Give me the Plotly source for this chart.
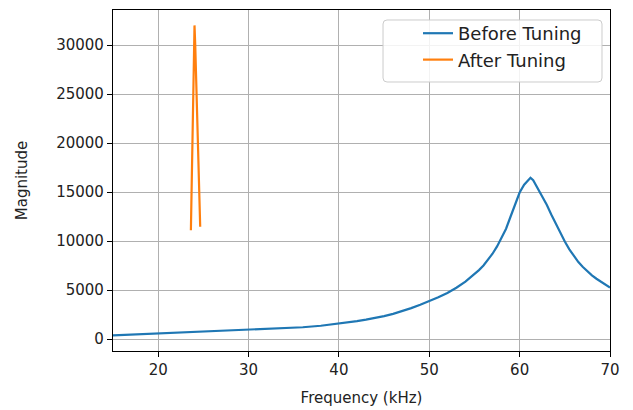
import plotly.graph_objects as go

# Before Tuning (kHz, magnitude)
before_freq = [15, 16, 17, 18, 19, 20, 22, 24, 26, 28, 30, 32, 34, 36, 38, 40, 41, 42, 43, 44,
               45, 46, 47, 48, 49, 50, 51, 52, 53, 54, 55, 55.5, 56, 56.5, 57, 57.5, 58, 58.5,
               59, 59.5, 60, 60.5, 61, 61.2, 61.5, 62, 62.5, 63, 63.5, 64, 64.5, 65, 65.5, 66,
               66.5, 67, 67.5, 68, 68.5, 69, 69.5, 70]
before_mag = [370, 410, 450, 490, 525, 560, 625, 690, 760, 830, 900, 980, 1080, 1200, 1350, 1560,
              1680, 1820, 1970, 2140, 2340, 2570, 2840, 3150, 3490, 3850, 4250, 4700, 5230, 5850,
              6600, 7030, 7500, 8050, 8700, 9450, 10300, 11250, 12500, 13800, 14950, 15750, 16300,
              16450, 16200, 15400, 14600, 13700, 12700, 11750, 10850, 9950, 9150, 8450, 7850, 7350,
              6900, 6500, 6150, 5830, 5530, 5250]

# After Tuning
after_freq = [23.62, 23.75, 23.88, 23.98, 24.02, 24.1, 24.25, 24.45, 24.65]
after_mag = [11100, 17200, 24000, 30500, 32000, 30000, 24200, 17500, 11450]

x_ticks = [20, 30, 40, 50, 60, 70]
y_ticks = [0, 5000, 10000, 15000, 20000, 25000, 30000]

FONT = "DejaVu Sans"
fig = go.Figure()
fig.add_trace(go.Scatter(x=before_freq, y=before_mag, mode="lines", name="Before Tuning",
                         line=dict(color="#1f77b4", width=2.2)))
fig.add_trace(go.Scatter(x=after_freq, y=after_mag, mode="lines", name="After Tuning",
                         line=dict(color="#ff7f0e", width=2.2)))

axis_common = dict(showline=True, linecolor="black", linewidth=1.2, mirror=True,
                   ticks="outside", ticklen=5, tickcolor="black", tickwidth=1.2,
                   showgrid=True, gridcolor="#b0b0b0", gridwidth=1, zeroline=False,
                   tickfont=dict(family=FONT, size=15, color="#222"))

# legend frame (matplotlib-style rounded box), in paper coordinates
x0, x1, y0, y1 = 0.5433, 0.9839, 0.7889, 0.9707
rx, ry = 0.008, 0.0117
frame_path = (f"M {x0+rx},{y0} L {x1-rx},{y0} Q {x1},{y0} {x1},{y0+ry} "
              f"L {x1},{y1-ry} Q {x1},{y1} {x1-rx},{y1} L {x0+rx},{y1} "
              f"Q {x0},{y1} {x0},{y1-ry} L {x0},{y0+ry} Q {x0},{y0} {x0+rx},{y0} Z")

# page body has an 8px margin, so the figure is sized 8px smaller and margins shifted
fig.update_layout(
    width=625, height=402,
    margin=dict(l=105, r=23, t=2, b=59),
    paper_bgcolor="white", plot_bgcolor="white",
    font=dict(family=FONT, size=15, color="#222"),
    xaxis=dict(range=[15, 70], tickvals=x_ticks,
               title=dict(text="Frequency (kHz)", font=dict(family=FONT, size=15), standoff=14),
               **axis_common),
    yaxis=dict(range=[-1224, 33571], tickvals=y_ticks, tickformat="d",
               title=dict(text="Magnitude", font=dict(family=FONT, size=15), standoff=24),
               **axis_common),
    legend=dict(x=0.6137, y=0.9853, xanchor="left", yanchor="top",
                bgcolor="rgba(0,0,0,0)", borderwidth=0,
                font=dict(family=FONT, size=18, color="#222")),
    shapes=[dict(type="path", xref="paper", yref="paper", path=frame_path,
                 fillcolor="rgba(255,255,255,0.85)", line=dict(color="#cccccc", width=1),
                 layer="above")],
    showlegend=True,
)

fig.write_html("out.html")
